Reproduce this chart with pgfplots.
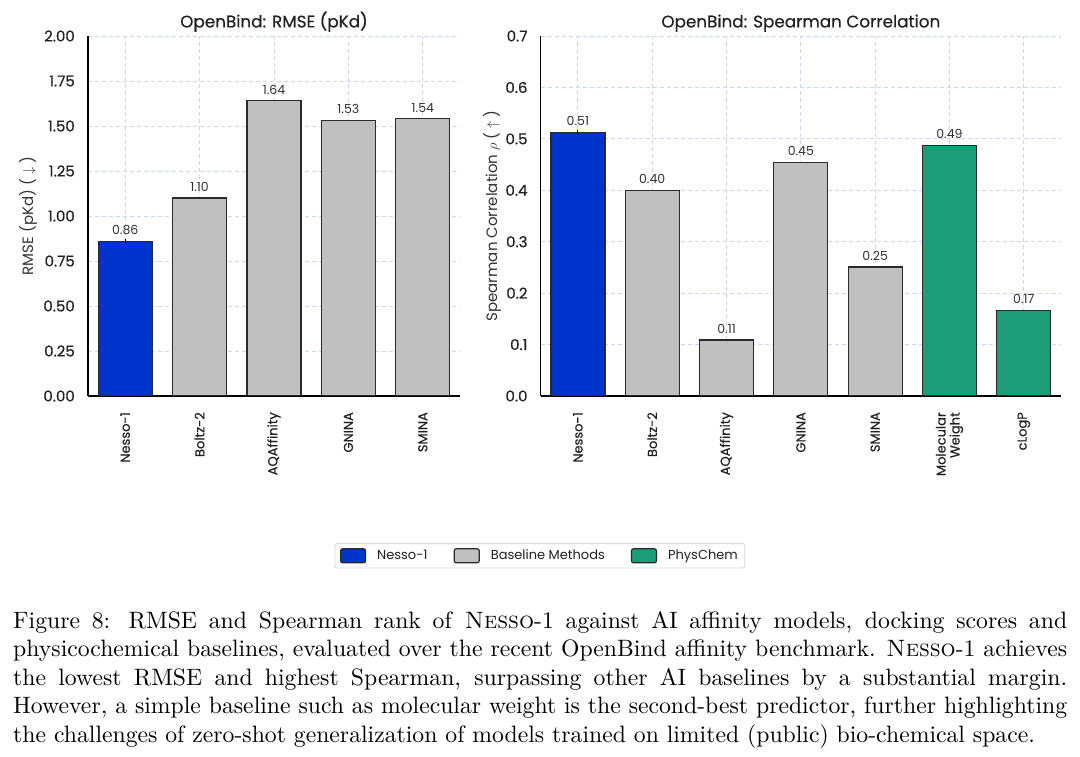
\documentclass[border=0pt]{standalone}
\usepackage{fontspec}
\setmainfont{lmroman10-regular.otf}[SmallCapsFont=lmromancaps10-regular.otf]
\usepackage{pgfplots}
\pgfplotsset{compat=1.18}
\newfontfamily\chartfont{Poppins}
\newfontfamily\chartfontb{Poppins}[FakeBold=0.5]
\definecolor{nesso}{HTML}{0033CC}
\definecolor{basec}{HTML}{C0C0C0}
\definecolor{phys}{HTML}{1B9E77}
\definecolor{gridc}{HTML}{CBD6F4}
\definecolor{txt}{HTML}{222222}
\definecolor{lab}{HTML}{333333}
\definecolor{edge}{HTML}{2A2A2A}
\pgfplotsset{
  /pgf/number format/assume math mode=true,
  mybar/.style={
    scale only axis,
    axis x line*=bottom, axis y line*=left,
    axis line style={black, line width=1.3pt},
    ymajorgrids, xmajorgrids,
    grid style={gridc, dash pattern=on 4pt off 3pt, line width=0.8pt},
    major tick length=0pt,
    tick label style={inner sep=0pt, text=txt},
    x tick label style={rotate=90, anchor=east, align=right,
      font=\chartfontb\fontsize{13}{14}\selectfont},
    xticklabel shift=16pt,
    y tick label style={font=\chartfontb\fontsize{15}{17}\selectfont},
    yticklabel shift=13pt,
    every axis title/.style={at={(0.5,1)}, anchor=south, yshift=4pt, inner sep=0pt,
      font=\chartfontb\fontsize{16.8}{18}\selectfont, text=txt},
    ylabel style={anchor=center, inner sep=0pt,
      font=\chartfont\fontsize{15}{17}\selectfont, text=lab},
    nodes near coords style={anchor=south, inner sep=0pt, yshift=6pt,
      font=\chartfont\fontsize{12.5}{14}\selectfont, text=lab},
  },
  bars/.style={ybar, bar shift=0pt, bar width=54pt, draw=edge, line width=1.3pt},
}
\begin{document}
\begin{tikzpicture}
\useasboundingbox (0,0) rectangle (1080pt,756pt);
\begin{axis}[mybar,
  at={(88pt,360pt)}, anchor=south west,
  width=372pt, height=360pt,
  xmin=-0.5, xmax=4.5, ymin=0, ymax=2,
  ytick={0,0.25,0.5,0.75,1,1.25,1.5,1.75,2},
  yticklabel style={/pgf/number format/.cd, fixed, fixed zerofill, precision=2},
  xtick={0,1,2,3,4},
  xticklabels={Nesso-1,Boltz-2,AQAffinity,GNINA,SMINA},
  title={OpenBind: RMSE (pKd)},
  ylabel={RMSE (pKd) ( $\downarrow$ )},
  ylabel style={at={(axis description cs:-0.1613,0.5)}},
  nodes near coords={\pgfmathprintnumber[fixed,fixed zerofill,precision=2]{\pgfplotspointmeta}},
]
\addplot[bars, fill=nesso,
  error bars/.cd, y dir=both, y explicit, error mark=none,
  error bar style={line width=1pt, black}]
  coordinates {(0,0.86) +- (0,0.01)};
\addplot[bars, fill=basec]
  coordinates {(1,1.10) (2,1.64) (3,1.53) (4,1.54)};
\end{axis}
\begin{axis}[mybar,
  at={(540.7pt,360pt)}, anchor=south west,
  width=520.3pt, height=360pt,
  xmin=-0.5, xmax=6.5, ymin=0, ymax=0.7,
  ytick={0,0.1,0.2,0.3,0.4,0.5,0.6,0.7},
  yticklabel style={/pgf/number format/.cd, fixed, fixed zerofill, precision=1},
  xtick={0,1,2,3,4,5,6},
  xticklabels={Nesso-1,Boltz-2,AQAffinity,GNINA,SMINA,{Molecular\\Weight},cLogP},
  title={OpenBind: Spearman Correlation},
  ylabel={Spearman Correlation $\rho$ ( $\uparrow$ )},
  ylabel style={at={(axis description cs:-0.0936,0.5)}},
  nodes near coords={\pgfmathprintnumber[fixed,fixed zerofill,precision=2]{\pgfplotspointmeta}},
  legend columns=3,
  legend style={at={(axis description cs:-0.0015,-0.4439)}, anchor=center,
    draw=black!15, rounded corners=2pt, line width=0.8pt,
    font=\chartfont\fontsize{13}{14}\selectfont, text=txt,
    inner xsep=5pt, inner ysep=4.5pt,
    /tikz/every odd column/.append style={column sep=9pt},
    /tikz/every even column/.append style={column sep=24pt}},
  legend image code/.code={\draw[#1, line width=1.2pt] (0pt,-7pt) rectangle (25pt,7pt);},
]
\addplot[bars, fill=nesso,
  error bars/.cd, y dir=both, y explicit, error mark=none,
  error bar style={line width=1pt, black}]
  coordinates {(0,0.513) +- (0,0.005)};
\addplot[bars, fill=basec]
  coordinates {(1,0.40) (2,0.109) (3,0.454) (4,0.251)};
\addplot[bars, fill=phys]
  coordinates {(5,0.487) (6,0.166)};
\legend{Nesso-1,Baseline Methods,PhysChem}
\end{axis}
\node[anchor=north west, inner sep=0pt, text width=1054pt, align=justify,
  font=\fontsize{23.7}{28.45}\selectfont] at (13pt,147.9pt)
{\strut Figure 8: RMSE and Spearman rank of \textsc{Nesso}-1 against AI affinity models, docking scores and\linebreak
physicochemical baselines, evaluated over the recent OpenBind affinity benchmark. \textsc{Nesso}-1 achieves\linebreak
the lowest RMSE and highest Spearman, surpassing other AI baselines by a substantial margin.\linebreak
However, a simple baseline such as molecular weight is the second-best predictor, further highlighting\linebreak
the challenges of zero-shot generalization of models trained on limited (public) bio-chemical space.};
\end{tikzpicture}
\end{document}
